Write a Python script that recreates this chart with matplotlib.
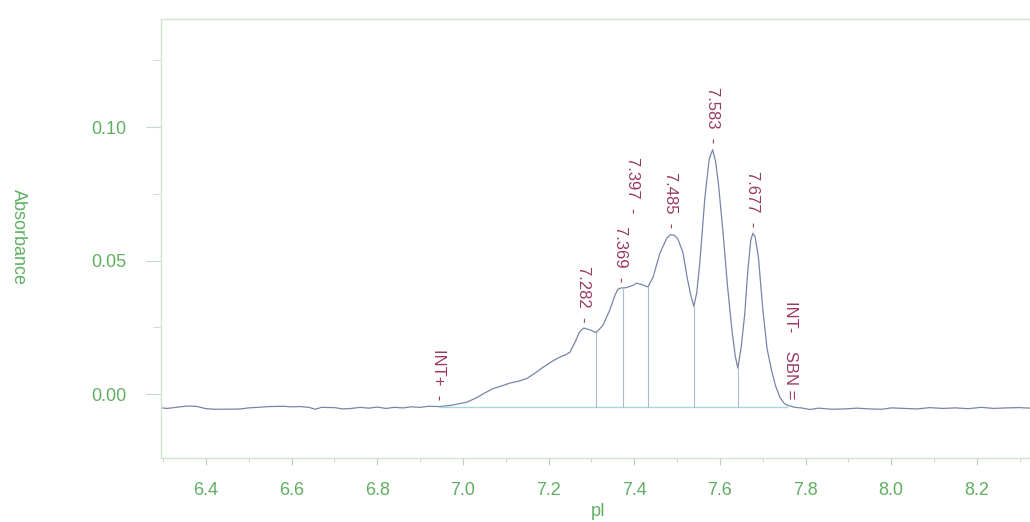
import numpy as np
import matplotlib.pyplot as plt

# isoelectric focusing trace: pI vs absorbance
pi = [6.295, 6.31, 6.33, 6.35, 6.365, 6.38, 6.40, 6.42, 6.45, 6.48, 6.50, 6.52,
      6.55, 6.58, 6.60, 6.62, 6.64, 6.655, 6.67, 6.70, 6.72, 6.74, 6.76, 6.78,
      6.80, 6.82, 6.84, 6.86, 6.88, 6.90, 6.92, 6.944, 6.97, 6.993, 7.01, 7.033,
      7.05, 7.07, 7.09, 7.11, 7.13, 7.149, 7.17, 7.187, 7.21, 7.227, 7.24, 7.25,
      7.262, 7.272, 7.282, 7.297, 7.311, 7.320, 7.327, 7.343, 7.355, 7.362, 7.369,
      7.380, 7.390, 7.397, 7.405, 7.418, 7.425, 7.432, 7.444, 7.460, 7.476, 7.485,
      7.494, 7.502, 7.514, 7.523, 7.532, 7.539, 7.546, 7.553, 7.565, 7.575, 7.583,
      7.590, 7.597, 7.607, 7.618, 7.628, 7.636, 7.642, 7.650, 7.658, 7.665, 7.672,
      7.677, 7.682, 7.690, 7.700, 7.710, 7.721, 7.730, 7.740, 7.750, 7.757, 7.775,
      7.79, 7.81, 7.83, 7.86, 7.89, 7.92, 7.95, 7.98, 8.00, 8.03, 8.06, 8.09, 8.12,
      8.15, 8.18, 8.21, 8.24, 8.27, 8.30, 8.324]
absorb = [-0.0052, -0.0054, -0.0050, -0.0046, -0.0045, -0.0047, -0.0055, -0.0057,
          -0.0057, -0.0056, -0.0052, -0.0050, -0.0047, -0.0046, -0.0048, -0.0047,
          -0.0050, -0.0057, -0.0050, -0.0051, -0.0056, -0.0054, -0.0050, -0.0053,
          -0.0049, -0.0054, -0.0050, -0.0052, -0.0048, -0.0050, -0.0046, -0.0047,
          -0.0043, -0.0036, -0.0030, -0.0013, 0.0003, 0.0020, 0.0030, 0.0041,
          0.0048, 0.0058, 0.0080, 0.0100, 0.0124, 0.0139, 0.0147, 0.0157, 0.0195,
          0.0232, 0.0247, 0.0240, 0.0230, 0.0245, 0.0258, 0.0315, 0.0370, 0.0393,
          0.0397, 0.0398, 0.0403, 0.0407, 0.0415, 0.0410, 0.0405, 0.0401, 0.0438,
          0.0528, 0.0584, 0.0597, 0.0594, 0.0580, 0.0528, 0.0440, 0.0370, 0.0328,
          0.0380, 0.0491, 0.0738, 0.0880, 0.0915, 0.0870, 0.0780, 0.0610, 0.0400,
          0.0240, 0.0140, 0.0097, 0.0180, 0.0300, 0.0460, 0.0575, 0.0602, 0.0590,
          0.0510, 0.0320, 0.0170, 0.0085, 0.0030, -0.0012, -0.0035, -0.0042,
          -0.0050, -0.0052, -0.0058, -0.0053, -0.0057, -0.0056, -0.0053, -0.0056,
          -0.0057, -0.0052, -0.0054, -0.0056, -0.0051, -0.0054, -0.0052, -0.0055,
          -0.0050, -0.0054, -0.0052, -0.0051, -0.0053]

# integration window and baseline
int_start, int_end = 6.944, 7.757
base_level = -0.0049
# peak split points (drop lines)
drops = [7.311, 7.374, 7.432, 7.539, 7.642]
# peak labels: (pI, text, extra lift in px)
peaks = [(7.282, "7.282", 0), (7.369, "7.369", 0), (7.397, "7.397", 66),
         (7.485, "7.485", 0), (7.583, "7.583", 0), (7.677, "7.677", 0)]

green = "#5fae62"
label_col = "#9a3a62"
curve_col = "#7884a8"
spine_col = "#cfe5cf"

plt.rcParams['font.family'] = ['Liberation Sans', 'DejaVu Sans']

fig = plt.figure(figsize=(10.30, 5.22), dpi=100)
ax = fig.add_axes([161/1030, 1-458/522, 869/1030, 439/522])

ax.plot(pi, absorb, color=curve_col, lw=0.9)
ax.plot([int_start, int_end], [base_level, base_level], color="#a9d6de", lw=1.0)
for xd in drops:
    yd = np.interp(xd, pi, absorb)
    ax.plot([xd, xd], [base_level, yd], color="#a8bccd", lw=0.8)

for xp, txt, lift in peaks:
    yp = np.interp(xp, pi, absorb)
    ax.annotate(txt + "  -", (xp, yp), xytext=(0, (6 + lift) * 0.72),
                textcoords="offset points", rotation=-90, rotation_mode="anchor",
                ha="right", va="center", color=label_col, fontsize=12)

ax.annotate("INT+  -", (int_start, np.interp(int_start, pi, absorb)),
            xytext=(0, 6 * 0.72), textcoords="offset points", rotation=-90,
            rotation_mode="anchor", ha="right", va="center", color=label_col,
            fontsize=12)
ax.annotate("INT-    SBN =", (int_end + 0.008, np.interp(int_end, pi, absorb)),
            xytext=(0, 6 * 0.72), textcoords="offset points", rotation=-90,
            rotation_mode="anchor", ha="right", va="center", color=label_col,
            fontsize=12)

ax.set_xlim(6.295, 8.324)
ax.set_ylim(-0.02397, 0.14045)
ax.set_xticks(np.arange(6.4, 8.21, 0.2))
ax.set_xticks(np.arange(6.3, 8.32, 0.1), minor=True)
ax.set_xticklabels([f"{v:.1f}" for v in np.arange(6.4, 8.21, 0.2)])
ax.set_yticks([0.0, 0.05, 0.10])
ax.set_yticks([0.025, 0.075, 0.125], minor=True)
ax.set_yticklabels(["0.00", "0.05", "0.10"])

ax.tick_params(axis="x", which="major", length=5, color="#b9d0b9", labelcolor=green,
               labelsize=13, pad=12)
ax.tick_params(axis="x", which="minor", length=3, color="#b9d0b9")
ax.tick_params(axis="y", which="major", length=11, color="#c5dac5", labelcolor=green,
               labelsize=13, pad=14)
ax.tick_params(axis="y", which="minor", length=6, color="#c5dac5")

for side in ("left", "top", "bottom"):
    ax.spines[side].set_color(spine_col)
    ax.spines[side].set_linewidth(1.0)
ax.spines["right"].set_visible(False)

fig.text(18/1030, 1-237/522, "Absorbance", rotation=-90, ha="center", va="center",
         color=green, fontsize=13)
fig.text(598/1030, 1-512/522, "pI", ha="center", va="center", color=green,
         fontsize=13)

fig.savefig("out.png", dpi=100)
